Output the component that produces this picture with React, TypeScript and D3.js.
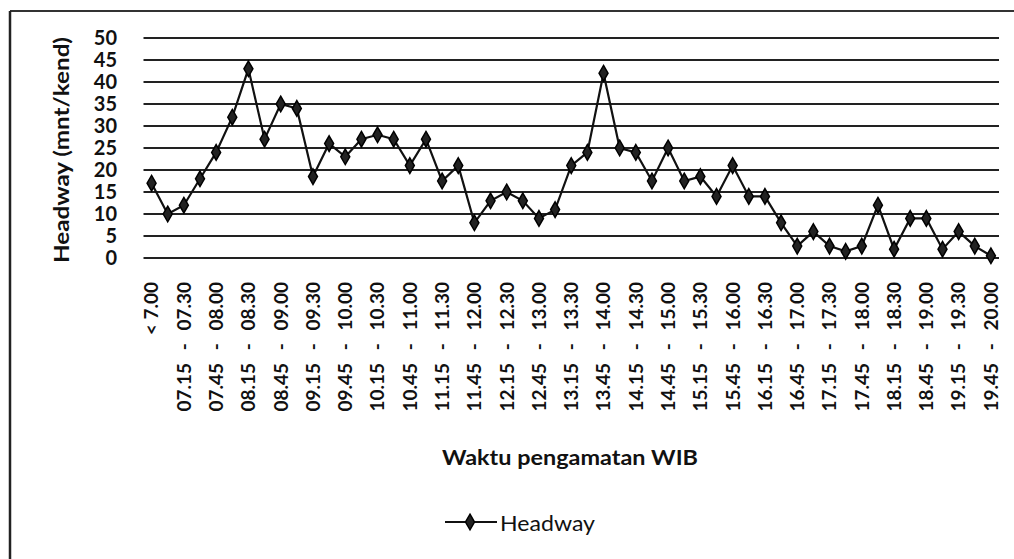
import React from 'react';
import * as d3 from 'd3';

const categories = [
  '< 7.00', '07.00 - 07.15', '07.15 - 07.30', '07.30 - 07.45', '07.45 - 08.00',
  '08.00 - 08.15', '08.15 - 08.30', '08.30 - 08.45', '08.45 - 09.00', '09.00 - 09.15',
  '09.15 - 09.30', '09.30 - 09.45', '09.45 - 10.00', '10.00 - 10.15', '10.15 - 10.30',
  '10.30 - 10.45', '10.45 - 11.00', '11.00 - 11.15', '11.15 - 11.30', '11.30 - 11.45',
  '11.45 - 12.00', '12.00 - 12.15', '12.15 - 12.30', '12.30 - 12.45', '12.45 - 13.00',
  '13.00 - 13.15', '13.15 - 13.30', '13.30 - 13.45', '13.45 - 14.00', '14.00 - 14.15',
  '14.15 - 14.30', '14.30 - 14.45', '14.45 - 15.00', '15.00 - 15.15', '15.15 - 15.30',
  '15.30 - 15.45', '15.45 - 16.00', '16.00 - 16.15', '16.15 - 16.30', '16.30 - 16.45',
  '16.45 - 17.00', '17.00 - 17.15', '17.15 - 17.30', '17.30 - 17.45', '17.45 - 18.00',
  '18.00 - 18.15', '18.15 - 18.30', '18.30 - 18.45', '18.45 - 19.00', '19.00 - 19.15',
  '19.15 - 19.30', '19.30 - 19.45', '19.45 - 20.00',
];

// headway in minutes per vehicle
const headway = [
  17, 10, 12, 18, 24, 32, 43, 27, 35, 34,
  18.5, 26, 23, 27, 28, 27, 21, 27, 17.5, 21,
  8, 13, 15, 13, 9, 11, 21, 24, 42, 25,
  24, 17.5, 25, 17.5, 18.5, 14, 21, 14, 14, 8,
  2.7, 6, 2.7, 1.5, 2.7, 12, 2, 9, 9, 2,
  6, 2.7, 0.5,
];

const yTicks = [0, 5, 10, 15, 20, 25, 30, 35, 40, 45, 50];

const FONT = 'Lato, "Open Sans", sans-serif';

const App: React.FC = () => {
  const width = 1014;
  const height = 559;

  const x = d3.scaleBand<string>().domain(categories).range([143.5, 999]);
  const y = d3.scaleLinear().domain([0, 50]).range([258, 38]);
  const cx = (c: string) => (x(c) ?? 0) + x.bandwidth() / 2;

  const line = d3
    .line<number>()
    .x((_, i) => cx(categories[i]))
    .y((d) => y(d));

  const diamond = d3.symbol().type(d3.symbolDiamond).size(70)();

  return (
    <svg
      width={width}
      height={height}
      style={{ position: 'absolute', left: 0, top: 0, background: '#fff' }}
      fontFamily={FONT}
    >
      {/* frame */}
      <line x1={10} y1={11} x2={1014} y2={11} stroke="#333" strokeWidth={2} />
      <line x1={10} y1={11} x2={10} y2={559} stroke="#222" strokeWidth={2.5} />

      {/* grid + y ticks */}
      {yTicks.map((t) => (
        <g key={t}>
          <line x1={143.5} x2={999} y1={y(t)} y2={y(t)} stroke="#222" strokeWidth={1.8} />
          <text
            x={117}
            y={y(t)}
            dy="0.36em"
            textAnchor="end"
            fontSize={20}
            fontWeight="bold"
            fill="#111"
          >
            {t}
          </text>
        </g>
      ))}

      {/* y title */}
      <text
        transform="translate(69,150) rotate(-90)"
        textAnchor="middle"
        fontSize={21}
        fontWeight="bold"
        fill="#111"
        textLength={226}
        lengthAdjust="spacingAndGlyphs"
      >
        Headway (mnt/kend)
      </text>

      {/* x tick labels, every other category */}
      {categories.map((c, i) =>
        i % 2 === 0 ? (
          <text
            key={c}
            transform={`translate(${cx(c)},282) rotate(-90)`}
            dy="0.36em"
            textAnchor="end"
            fontSize={19}
            fontWeight="bold"
            fill="#111"
            style={{ wordSpacing: c.includes('-') ? '8px' : '0px' }}
          >
            {c}
          </text>
        ) : null
      )}

      {/* x title */}
      <text
        x={570}
        y={465}
        textAnchor="middle"
        fontSize={20}
        fontWeight="bold"
        fill="#111"
        textLength={256}
        lengthAdjust="spacingAndGlyphs"
      >
        Waktu pengamatan WIB
      </text>

      {/* series */}
      <path d={line(headway) ?? ''} fill="none" stroke="#111" strokeWidth={2.2} />
      {headway.map((v, i) => (
        <path
          key={i}
          d={diamond ?? ''}
          transform={`translate(${cx(categories[i])},${y(v)})`}
          fill="#222"
          stroke="#000"
          strokeWidth={1.5}
        />
      ))}

      {/* legend */}
      <line x1={445} x2={497} y1={522} y2={522} stroke="#111" strokeWidth={2.2} />
      <path d={diamond ?? ''} transform="translate(470,522)" fill="#222" stroke="#000" strokeWidth={1.5} />
      <text x={500} y={531} fontSize={22} fill="#111" textLength={95} lengthAdjust="spacingAndGlyphs">
        Headway
      </text>
    </svg>
  );
};

export default App;
